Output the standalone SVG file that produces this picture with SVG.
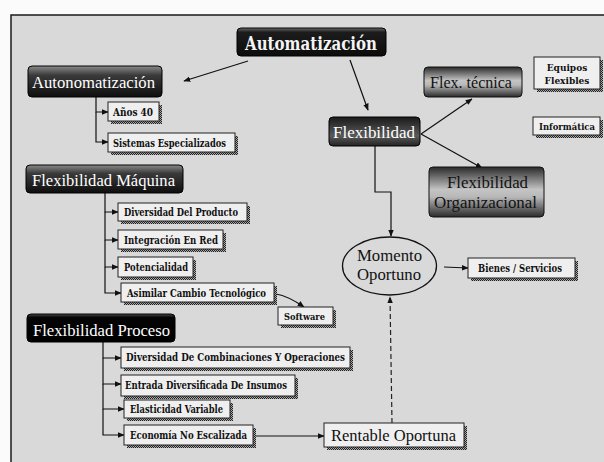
<svg xmlns="http://www.w3.org/2000/svg" width="604" height="462" viewBox="0 0 604 462">
  <defs>
    <style>
      .frame { fill: #d9d9d9; }
      .border { fill: none; stroke: #1a1a1a; stroke-width: 1.5; }
      .leaf { fill: #efefef; stroke: #222; stroke-width: 1; }
      .shadow { fill: url(#hatch); }
      .lt, .st, .title { font-family: "DejaVu Serif", "Liberation Serif", serif; }
      .wt, .dt { font-family: "Liberation Serif", "DejaVu Serif", serif; }
      .lt { font-size: 10.5px; font-weight: bold; fill: #111; }
      .st { font-size: 9px; font-weight: bold; fill: #111; }
      .wt { font-size: 16px; fill: #fff; }
      .dt { font-size: 16px; fill: #111; }
      .title { font-size: 18px; font-weight: bold; fill: #f4f4f4; }
      .edge { fill: none; stroke: #111; stroke-width: 1.2; }
      .dash { fill: none; stroke: #222; stroke-width: 1.2; stroke-dasharray: 5 3; }
    </style>
    <pattern id="hatch" width="2" height="2" patternUnits="userSpaceOnUse">
      <rect width="2" height="2" fill="#aaa"/>
      <rect width="1" height="1" fill="#222"/>
      <rect x="1" y="1" width="1" height="1" fill="#222"/>
    </pattern>
    <linearGradient id="gTitle" x1="0" y1="0" x2="0" y2="1">
      <stop offset="0" stop-color="#6a6a6a"/>
      <stop offset="0.15" stop-color="#1c1c1c"/>
      <stop offset="1" stop-color="#0c0c0c"/>
    </linearGradient>
    <linearGradient id="gDark" x1="0" y1="0" x2="0" y2="1">
      <stop offset="0" stop-color="#8a8a8a"/>
      <stop offset="0.3" stop-color="#3a3a3a"/>
      <stop offset="1" stop-color="#0e0e0e"/>
    </linearGradient>
    <linearGradient id="gMetal" x1="0" y1="0" x2="0" y2="1">
      <stop offset="0" stop-color="#2a2a2a"/>
      <stop offset="0.45" stop-color="#c4c4c4"/>
      <stop offset="0.6" stop-color="#b8b8b8"/>
      <stop offset="1" stop-color="#2a2a2a"/>
    </linearGradient>
    <linearGradient id="gFlex" x1="0" y1="0" x2="0" y2="1">
      <stop offset="0" stop-color="#1a1a1a"/>
      <stop offset="0.65" stop-color="#5a5a5a"/>
      <stop offset="1" stop-color="#222"/>
    </linearGradient>
    <linearGradient id="gBlack" x1="0" y1="0" x2="0" y2="1">
      <stop offset="0" stop-color="#4a4a4a"/>
      <stop offset="0.12" stop-color="#050505"/>
      <stop offset="1" stop-color="#000"/>
    </linearGradient>
    <marker id="arr" viewBox="0 0 10 10" refX="9" refY="5" markerWidth="7" markerHeight="7" markerUnits="userSpaceOnUse" orient="auto">
      <path d="M0,1 L10,5 L0,9 Z" fill="#111"/>
    </marker>
  </defs>

  <!-- page and frame -->
  <rect width="604" height="462" fill="#fbfbfb"/>
  <rect class="frame" x="11" y="15" width="593" height="447"/>
  <path class="border" d="M11,462 L11,15 L604,15"/>

  <!-- connectors -->
  <g id="connectors">
    <path class="edge" d="M248,61 L184,81" marker-end="url(#arr)"/>
    <path class="edge" d="M350,60 L368,110" marker-end="url(#arr)"/>
    <path class="edge" d="M96,97 L96,112 L108,112" marker-end="url(#arr)"/>
    <path class="edge" d="M96,112 L96,142 L108,142" marker-end="url(#arr)"/>
    <path class="edge" d="M421,134 L472,99" marker-end="url(#arr)"/>
    <path class="edge" d="M421,134 L482,168" marker-end="url(#arr)"/>
    <path class="edge" d="M375,146 L375,192 L391,192 L391,236" marker-end="url(#arr)"/>
    <path class="edge" d="M444,267 L468,268" marker-end="url(#arr)"/>
    <path class="dash" d="M392,423 L390,297" marker-end="url(#arr)"/>
    <path class="edge" d="M105,193 L105,212 L118,212" marker-end="url(#arr)"/>
    <path class="edge" d="M105,212 L105,240 L118,240" marker-end="url(#arr)"/>
    <path class="edge" d="M105,240 L105,267 L118,267" marker-end="url(#arr)"/>
    <path class="edge" d="M105,267 L105,293 L121,293" marker-end="url(#arr)"/>
    <path class="edge" d="M276,294 Q288,296 304,307" marker-end="url(#arr)"/>
    <path class="edge" d="M103,342 L103,358 L121,358" marker-end="url(#arr)"/>
    <path class="edge" d="M103,358 L103,384 L121,384" marker-end="url(#arr)"/>
    <path class="edge" d="M103,384 L103,409 L124,409" marker-end="url(#arr)"/>
    <path class="edge" d="M103,409 L103,435 L124,435" marker-end="url(#arr)"/>
    <path class="edge" d="M253,436 L324,436" marker-end="url(#arr)"/>
  </g>

  <!-- main nodes -->
  <g id="automatizacion">
    <rect x="237" y="28" width="149" height="28" rx="4" fill="url(#gTitle)" stroke="#000"/>
    <text class="title" x="245" y="50" textLength="132" lengthAdjust="spacingAndGlyphs">Automatización</text>
  </g>
  <g id="autonomatizacion">
    <rect x="28" y="66" width="134" height="31" rx="4" fill="url(#gDark)" stroke="#000"/>
    <text class="wt" x="32" y="88" textLength="123" lengthAdjust="spacingAndGlyphs">Autonomatización</text>
  </g>
  <g id="flexibilidad">
    <rect x="329" y="117" width="91" height="29" rx="4" fill="url(#gFlex)" stroke="#000"/>
    <text class="wt" x="333" y="138" textLength="82" lengthAdjust="spacingAndGlyphs">Flexibilidad</text>
  </g>
  <g id="flex-tecnica">
    <rect x="424" y="67" width="98" height="30" rx="4" fill="url(#gMetal)" stroke="#111"/>
    <text class="dt" x="430" y="88" textLength="82" lengthAdjust="spacingAndGlyphs">Flex. técnica</text>
  </g>
  <g id="flex-organizacional">
    <rect x="429" y="167" width="115" height="50" rx="4" fill="url(#gMetal)" stroke="#111"/>
    <text class="dt" x="447" y="188" textLength="81" lengthAdjust="spacingAndGlyphs">Flexibilidad</text>
    <text class="dt" x="434" y="208" textLength="103" lengthAdjust="spacingAndGlyphs">Organizacional</text>
  </g>
  <g id="flex-maquina">
    <rect x="26" y="165" width="157" height="28" rx="4" fill="url(#gDark)" stroke="#000"/>
    <text class="wt" x="32" y="186" textLength="143" lengthAdjust="spacingAndGlyphs">Flexibilidad Máquina</text>
  </g>
  <g id="flex-proceso">
    <rect x="27" y="314" width="148" height="28" rx="4" fill="url(#gBlack)" stroke="#000"/>
    <text class="wt" x="33" y="336" textLength="137" lengthAdjust="spacingAndGlyphs">Flexibilidad Proceso</text>
  </g>
  <g id="momento-oportuno">
    <ellipse cx="389.5" cy="266" rx="47" ry="29" fill="#d9d9d9" stroke="#111" stroke-width="1.3"/>
    <text class="dt" x="357" y="261" textLength="65" lengthAdjust="spacingAndGlyphs">Momento</text>
    <text class="dt" x="357" y="280" textLength="64" lengthAdjust="spacingAndGlyphs">Oportuno</text>
  </g>
  <g id="rentable-oportuna">
    <rect class="shadow" x="327" y="426" width="140" height="24"/>
    <rect class="leaf" x="324" y="423" width="140" height="24"/>
    <text class="dt" x="331" y="441" textLength="125" lengthAdjust="spacingAndGlyphs">Rentable Oportuna</text>
  </g>

  <!-- leaf boxes -->
  <g id="anos-40">
    <rect class="shadow" x="111" y="105" width="51" height="19"/>
    <rect class="leaf" x="108" y="102" width="51" height="19"/>
    <text class="lt" x="113" y="115.5" textLength="40" lengthAdjust="spacingAndGlyphs">Años 40</text>
  </g>
  <g id="sistemas-especializados">
    <rect class="shadow" x="111" y="136" width="127" height="19"/>
    <rect class="leaf" x="108" y="133" width="127" height="19"/>
    <text class="lt" x="113" y="146.5" textLength="113" lengthAdjust="spacingAndGlyphs">Sistemas Especializados</text>
  </g>
  <g id="equipos-flexibles">
    <rect class="shadow" x="537" y="60" width="66" height="32"/>
    <rect class="leaf" x="534" y="57" width="66" height="32"/>
    <text class="st" x="567" y="71" text-anchor="middle">Equipos</text>
    <text class="st" x="567" y="84" text-anchor="middle">Flexibles</text>
  </g>
  <g id="informatica">
    <rect class="shadow" x="536" y="120" width="67" height="18"/>
    <rect class="leaf" x="533" y="117" width="67" height="18"/>
    <text class="st" x="539" y="129.5" textLength="56" lengthAdjust="spacingAndGlyphs">Informática</text>
  </g>
  <g id="bienes-servicios">
    <rect class="shadow" x="471" y="261" width="107" height="20"/>
    <rect class="leaf" x="468" y="258" width="107" height="20"/>
    <text class="lt" x="478" y="271.5" textLength="84" lengthAdjust="spacingAndGlyphs">Bienes / Servicios</text>
  </g>
  <g id="diversidad-producto">
    <rect class="shadow" x="121" y="206" width="129" height="18"/>
    <rect class="leaf" x="118" y="203" width="129" height="18"/>
    <text class="lt" x="124" y="215.5" textLength="114" lengthAdjust="spacingAndGlyphs">Diversidad Del Producto</text>
  </g>
  <g id="integracion-red">
    <rect class="shadow" x="121" y="233" width="105" height="19"/>
    <rect class="leaf" x="118" y="230" width="105" height="19"/>
    <text class="lt" x="124" y="243.5" textLength="94" lengthAdjust="spacingAndGlyphs">Integración En Red</text>
  </g>
  <g id="potencialidad">
    <rect class="shadow" x="121" y="260" width="75" height="20"/>
    <rect class="leaf" x="118" y="257" width="75" height="20"/>
    <text class="lt" x="124" y="271" textLength="64" lengthAdjust="spacingAndGlyphs">Potencialidad</text>
  </g>
  <g id="asimilar-cambio">
    <rect class="shadow" x="124" y="286" width="153" height="19"/>
    <rect class="leaf" x="121" y="283" width="153" height="19"/>
    <text class="lt" x="127" y="296.5" textLength="139" lengthAdjust="spacingAndGlyphs">Asimilar Cambio Tecnológico</text>
  </g>
  <g id="software">
    <rect class="shadow" x="281" y="310" width="55" height="18"/>
    <rect class="leaf" x="278" y="307" width="55" height="18"/>
    <text class="st" x="284" y="319.5" textLength="41" lengthAdjust="spacingAndGlyphs">Software</text>
  </g>
  <g id="diversidad-combinaciones">
    <rect class="shadow" x="124" y="350" width="229" height="21"/>
    <rect class="leaf" x="121" y="347" width="229" height="21"/>
    <text class="lt" x="126" y="361" textLength="219" lengthAdjust="spacingAndGlyphs">Diversidad De Combinaciones Y Operaciones</text>
  </g>
  <g id="entrada-diversificada">
    <rect class="shadow" x="124" y="378" width="174" height="21"/>
    <rect class="leaf" x="121" y="375" width="174" height="21"/>
    <text class="lt" x="125" y="389" textLength="162" lengthAdjust="spacingAndGlyphs">Entrada Diversificada De Insumos</text>
  </g>
  <g id="elasticidad-variable">
    <rect class="shadow" x="127" y="403" width="106" height="18"/>
    <rect class="leaf" x="124" y="400" width="106" height="18"/>
    <text class="lt" x="130" y="412.5" textLength="93" lengthAdjust="spacingAndGlyphs">Elasticidad Variable</text>
  </g>
  <g id="economia-no-escalizada">
    <rect class="shadow" x="127" y="428" width="129" height="20"/>
    <rect class="leaf" x="124" y="425" width="129" height="20"/>
    <text class="lt" x="130" y="438.5" textLength="117" lengthAdjust="spacingAndGlyphs">Economía No Escalizada</text>
  </g>
</svg>
